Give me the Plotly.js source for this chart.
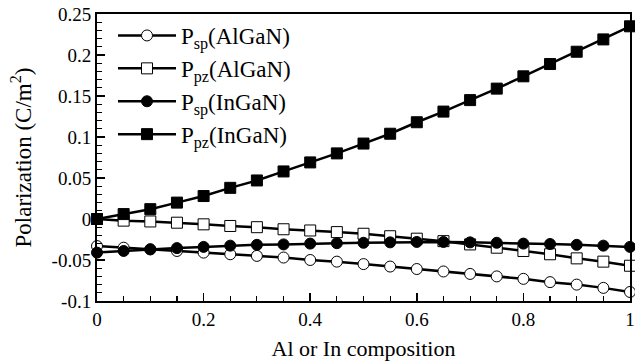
<!DOCTYPE html>
<html>
<head>
<meta charset="utf-8">
<script src="https://cdn.plot.ly/plotly-3.0.1.min.js"></script>
<style>
  html, body { margin: 0; padding: 0; background: #fff; }
  #chart { width: 635px; height: 364px; }
  /* Serif face for every SVG label, including the off-screen text tester */
  svg text { font-family: 'Liberation Serif' !important; }
</style>
</head>
<body>
<div id="chart"></div>
<script>
// Composition (Al or In mole fraction)
const composition = [0, 0.05, 0.1, 0.15, 0.2, 0.25, 0.3, 0.35, 0.4, 0.45, 0.5,
                     0.55, 0.6, 0.65, 0.7, 0.75, 0.8, 0.85, 0.9, 0.95, 1];

// Spontaneous polarization of AlGaN (C/m^2)
const pspAlGaN = [-0.033, -0.035, -0.037, -0.039, -0.041, -0.043, -0.045, -0.047, -0.050, -0.052, -0.055,
                  -0.058, -0.061, -0.064, -0.067, -0.070, -0.073, -0.077, -0.080, -0.084, -0.089];
// Piezoelectric polarization of AlGaN (C/m^2)
const ppzAlGaN = [0, -0.002, -0.003, -0.0045, -0.0065, -0.0085, -0.010, -0.0125, -0.014, -0.016, -0.018,
                  -0.021, -0.024, -0.027, -0.031, -0.035, -0.039, -0.043, -0.048, -0.052, -0.057];
// Spontaneous polarization of InGaN (C/m^2)
const pspInGaN = [-0.041, -0.039, -0.037, -0.0355, -0.034, -0.0325, -0.0315, -0.031, -0.030, -0.0295, -0.029,
                  -0.0285, -0.028, -0.028, -0.0285, -0.029, -0.030, -0.0305, -0.0315, -0.0325, -0.034];
// Piezoelectric polarization of InGaN (C/m^2)
const ppzInGaN = [0, 0.006, 0.012, 0.020, 0.028, 0.038, 0.047, 0.058, 0.069, 0.080, 0.092,
                  0.104, 0.118, 0.131, 0.145, 0.159, 0.174, 0.189, 0.204, 0.219, 0.235];

// Axis tick labels (plain hyphen minus)
const yTickVals = [-0.1, -0.05, 0, 0.05, 0.1, 0.15, 0.2, 0.25];
const yTickText = ['-0.1', '-0.05', '0', '0.05', '0.1', '0.15', '0.2', '0.25'];
const xTickVals = [0, 0.2, 0.4, 0.6, 0.8, 1];
const xTickText = ['0', '0.2', '0.4', '0.6', '0.8', '1'];

const seriesNames = ['P<sub>sp</sub>(AlGaN)', 'P<sub>pz</sub>(AlGaN)',
                     'P<sub>sp</sub>(InGaN)', 'P<sub>pz</sub>(InGaN)'];

const serif = 'Times New Roman';

function series(name, y, symbol, filled) {
  return {
    x: composition, y: y, name: name,
    type: 'scatter', mode: 'lines+markers',
    line: { color: '#000', width: 2.5 },
    marker: {
      symbol: symbol, size: 11,
      color: filled ? '#000' : '#fff',
      line: { color: '#000', width: 1 }
    },
    cliponaxis: false
  };
}

const data = [
  series(seriesNames[0], pspAlGaN, 'circle', false),
  series(seriesNames[1], ppzAlGaN, 'square', false),
  series(seriesNames[2], pspInGaN, 'circle', true),
  series(seriesNames[3], ppzInGaN, 'square', true)
];

const layout = {
  width: 635, height: 364,
  margin: { l: 97, r: 5, t: 14, b: 63 },
  paper_bgcolor: '#fff', plot_bgcolor: '#fff',
  font: { family: serif, color: '#000', size: 19 },
  showlegend: true,
  legend: {
    x: 0.03, y: 1.0, xanchor: 'left', yanchor: 'top',
    bgcolor: 'rgba(0,0,0,0)', borderwidth: 0,
    font: { family: serif, size: 23, color: '#000' },
    itemwidth: 58, tracegroupgap: 0
  },
  xaxis: {
    range: [0, 1], showgrid: false, zeroline: false,
    showline: true, linecolor: '#000', linewidth: 2, mirror: true,
    tickmode: 'array', tickvals: xTickVals, ticktext: xTickText,
    ticks: 'inside', ticklen: 8, tickwidth: 1.5, tickcolor: '#000',
    minor: { dtick: 0.05, ticks: 'inside', ticklen: 5, tickwidth: 1.2, tickcolor: '#000', showgrid: false },
    tickfont: { family: serif, size: 19, color: '#000' },
    title: { text: 'Al or In composition', font: { family: serif, size: 22, color: '#000' }, standoff: 12 }
  },
  yaxis: {
    range: [-0.1, 0.25], showgrid: false, zeroline: false,
    showline: true, linecolor: '#000', linewidth: 2, mirror: true,
    tickmode: 'array', tickvals: yTickVals, ticktext: yTickText,
    ticks: 'inside', ticklen: 8, tickwidth: 1.5, tickcolor: '#000',
    minor: { dtick: 0.01, ticks: 'inside', ticklen: 5, tickwidth: 1.2, tickcolor: '#000', showgrid: false },
    tickfont: { family: serif, size: 19, color: '#000' },
    title: { text: 'Polarization (C/m<sup>2</sup>)', font: { family: serif, size: 23, color: '#000' }, standoff: 14 }
  }
};

Plotly.newPlot('chart', data, layout, { staticPlot: true, displayModeBar: false });
</script>
</body>
</html>
